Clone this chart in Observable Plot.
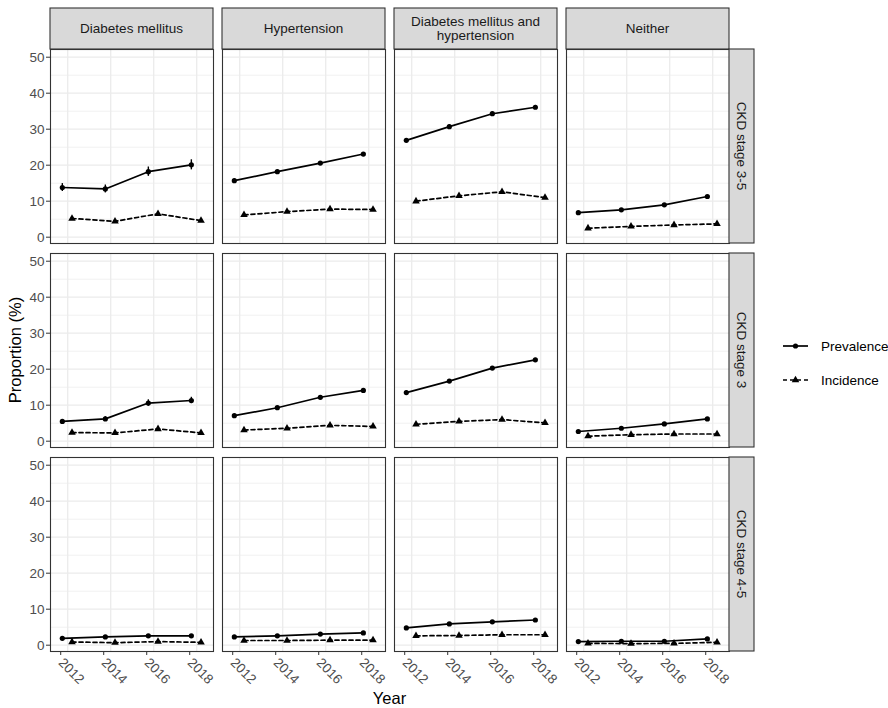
<!DOCTYPE html>
<html><head><meta charset="utf-8">
<script src="https://cdn.jsdelivr.net/npm/d3@7"></script>
<script src="https://cdn.jsdelivr.net/npm/@observablehq/plot@0.6"></script>
<style>body{margin:0;background:#fff;}</style>
</head><body><div id="chart"></div>
<script>
const groups = ["Diabetes mellitus", "Hypertension", "Diabetes mellitus and hypertension", "Neither"];
const stages = ["CKD stage 3-5", "CKD stage 3", "CKD stage 4-5"];
const years = [2012, 2014, 2016, 2018];
const measures = ["Prevalence", "Incidence"];
const yTicks = [0, 10, 20, 30, 40, 50];
const yMinor = [5, 15, 25, 35, 45];

// rows: groups (DM, HT, DM+HT, Neither); columns: years
const prevalenceStage3to5 = [[13.8, 13.4, 18.2, 20.1], [15.7, 18.2, 20.6, 23.1], [26.9, 30.7, 34.3, 36.1], [6.8, 7.6, 9.0, 11.3]];
const incidenceStage3to5  = [[5.2, 4.4, 6.5, 4.6], [6.2, 7.1, 7.8, 7.7], [10.0, 11.5, 12.6, 11.0], [2.5, 3.0, 3.4, 3.7]];
const prevErrorStage3to5  = [[1.1, 1.1, 1.3, 1.4], [0.4, 0.4, 0.4, 0.4], [0.5, 0.5, 0.5, 0.5], [0.3, 0.3, 0.3, 0.3]];

const prevalenceStage3 = [[5.5, 6.2, 10.6, 11.3], [7.1, 9.3, 12.2, 14.1], [13.5, 16.7, 20.3, 22.6], [2.7, 3.6, 4.8, 6.2]];
const incidenceStage3  = [[2.4, 2.3, 3.4, 2.3], [3.1, 3.6, 4.4, 4.1], [4.7, 5.5, 6.0, 5.1], [1.4, 1.8, 2.0, 2.0]];
const prevErrorStage3  = [[0.5, 0.6, 0.9, 0.9], [0.3, 0.3, 0.3, 0.3], [0.4, 0.4, 0.4, 0.4], [0.2, 0.2, 0.2, 0.2]];

const prevalenceStage4to5 = [[1.9, 2.3, 2.6, 2.6], [2.3, 2.6, 3.1, 3.4], [4.8, 5.9, 6.5, 7.0], [1.0, 1.1, 1.1, 1.75]];
const incidenceStage4to5  = [[0.9, 0.7, 1.0, 0.8], [1.3, 1.3, 1.4, 1.4], [2.6, 2.7, 2.9, 2.9], [0.5, 0.45, 0.5, 0.8]];
const prevErrorStage4to5  = [[0.3, 0.3, 0.3, 0.3], [0.2, 0.2, 0.2, 0.2], [0.3, 0.3, 0.3, 0.3], [0.1, 0.1, 0.1, 0.1]];

const prevalenceByStage = [prevalenceStage3to5, prevalenceStage3, prevalenceStage4to5];
const incidenceByStage = [incidenceStage3to5, incidenceStage3, incidenceStage4to5];
const errorByStage = [prevErrorStage3to5, prevErrorStage3, prevErrorStage4to5];

const dodge = {Prevalence: -0.25, Incidence: 0.2};
const rows = [];
stages.forEach((stage, si) => groups.forEach((group, gi) => years.forEach((year, yi) => {
  const p = prevalenceByStage[si][gi][yi], e = errorByStage[si][gi][yi];
  rows.push({stage, group, measure: "Prevalence", year, value: p, lo: p - e, hi: p + e});
  rows.push({stage, group, measure: "Incidence", year, value: incidenceByStage[si][gi][yi]});
})));
const prev = rows.filter(d => d.measure === "Prevalence");
const inc = rows.filter(d => d.measure === "Incidence");

const FONT = "'Liberation Sans', Arial, sans-serif";
const LW = 1.7;
const X = d => d.year + dodge[d.measure];
const common = {fx: "group", fy: "stage", x: X, y: "value"};

const plot = Plot.plot({
  width: 888, height: 708,
  marginLeft: 50, marginRight: 159, marginTop: 49, marginBottom: 57,
  style: {fontFamily: FONT, fontSize: "13.3px", color: "#4d4d4d", background: "white", overflow: "visible"},
  fx: {domain: groups, paddingInner: 9 / 172, paddingOuter: 0, axis: null, label: null},
  fy: {domain: stages, paddingInner: 10 / 204, paddingOuter: 0, axis: null, label: null},
  x: {domain: [2011.2, 2018.78], label: null},
  y: {domain: [-1.75, 52.14], label: null},
  marks: [
    Plot.gridY(yMinor, {stroke: "#ebebeb", strokeOpacity: 1, strokeWidth: 0.7}),
    Plot.gridY(yTicks, {stroke: "#ebebeb", strokeOpacity: 1, strokeWidth: 1.3}),
    Plot.gridX(years, {stroke: "#ebebeb", strokeOpacity: 1, strokeWidth: 1.3}),
    Plot.frame({stroke: "#333333", strokeWidth: 1.1}),
    Plot.axisY(yTicks, {facetAnchor: "left", tickSize: 4, tickPadding: 2, stroke: "#333333", fill: "#4d4d4d", fontSize: 13.5, label: null, tickFormat: d => String(d)}),
    Plot.axisX(years, {facetAnchor: "bottom", tickSize: 4, tickPadding: 5, tickRotate: 45, textAnchor: "start", lineAnchor: "middle", dx: -7, stroke: "#333333", fill: "#4d4d4d", fontSize: 13.5, label: null, tickFormat: d => String(d)}),
    Plot.ruleX(prev, {fx: "group", fy: "stage", x: X, y1: "lo", y2: "hi", stroke: "black", strokeWidth: 1.4}),
    Plot.line(prev, {...common, stroke: "black", strokeWidth: LW}),
    Plot.line(inc, {...common, stroke: "black", strokeWidth: LW, strokeDasharray: "4,3"}),
    Plot.dot(prev, {...common, symbol: "circle", r: 2.6, fill: "black"}),
    Plot.dot(inc, {...common, symbol: "triangle", r: 2.8, fill: "black"})
  ]
});

// ggplot-style strips, axis titles and legend
const STRIP_H = 41, STRIP_W = 25;
const fxs = plot.scale("fx"), fys = plot.scale("fy");
const bw = fxs.bandwidth, bh = fys.bandwidth;
const top0 = fys.apply(stages[0]);
const right0 = fxs.apply(groups[groups.length - 1]) + bw;
const left0 = fxs.apply(groups[0]);
const bottom0 = fys.apply(stages[stages.length - 1]) + bh;
const svg = d3.select(plot);
const g = svg.append("g").attr("font-family", FONT);

function wrap(s, n) {
  const words = s.split(" "), out = [];
  let cur = "";
  for (const w of words) {
    if (cur && (cur + " " + w).length > n) { out.push(cur); cur = w; }
    else cur = cur ? cur + " " + w : w;
  }
  out.push(cur);
  return out;
}

groups.forEach(grp => {
  const x0 = fxs.apply(grp);
  g.append("rect").attr("x", x0).attr("y", top0 - STRIP_H).attr("width", bw).attr("height", STRIP_H)
    .attr("fill", "#d9d9d9").attr("stroke", "#333333").attr("stroke-width", 1.1);
  const lines = wrap(grp, 22);
  const lh = 14.5;
  lines.forEach((ln, i) => {
    g.append("text").attr("x", x0 + bw / 2).attr("y", top0 - STRIP_H / 2 + (i - (lines.length - 1) / 2) * lh)
      .attr("text-anchor", "middle").attr("dy", "0.35em").attr("font-size", 13.5).attr("fill", "#1a1a1a").text(ln);
  });
});
stages.forEach(st => {
  const y0 = fys.apply(st);
  g.append("rect").attr("x", right0).attr("y", y0).attr("width", STRIP_W).attr("height", bh)
    .attr("fill", "#d9d9d9").attr("stroke", "#333333").attr("stroke-width", 1.1);
  g.append("text").attr("transform", `translate(${right0 + STRIP_W / 2},${y0 + bh / 2}) rotate(90)`)
    .attr("text-anchor", "middle").attr("dy", "0.35em").attr("font-size", 13.5).attr("fill", "#1a1a1a").text(st);
});

g.append("text").attr("x", (left0 + right0) / 2).attr("y", 704).attr("text-anchor", "middle")
  .attr("font-size", 16.5).attr("fill", "black").text("Year");
g.append("text").attr("transform", `translate(15,${(top0 + bottom0) / 2}) rotate(-90)`).attr("text-anchor", "middle")
  .attr("dy", "0.35em").attr("font-size", 16.5).attr("fill", "black").text("Proportion (%)");

const legX = right0 + 54, legY = 346, legGap = 34;
measures.forEach((m, i) => {
  const y = legY + i * legGap;
  g.append("line").attr("x1", legX).attr("x2", legX + 25).attr("y1", y).attr("y2", y)
    .attr("stroke", "black").attr("stroke-width", LW).attr("stroke-dasharray", m === "Incidence" ? "4,3" : null);
  const sym = m === "Prevalence" ? d3.symbolCircle : d3.symbolTriangle;
  const r = m === "Prevalence" ? 2.6 : 2.8;
  g.append("path").attr("d", d3.symbol(sym, Math.PI * r * r)()).attr("transform", `translate(${legX + 12.5},${y})`).attr("fill", "black");
  g.append("text").attr("x", legX + 38).attr("y", y).attr("dy", "0.35em").attr("text-anchor", "start")
    .attr("font-size", 13.5).attr("fill", "black").text(m);
});

document.getElementById("chart").appendChild(plot);
</script>
</body></html>
